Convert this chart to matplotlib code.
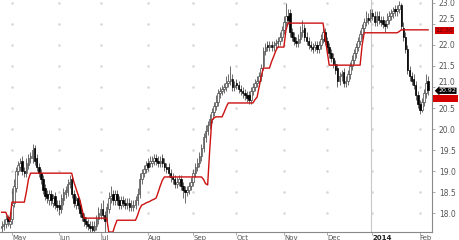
import matplotlib
matplotlib.use("Agg")
import matplotlib.pyplot as plt
import matplotlib.transforms as mtransforms
from matplotlib.patches import Rectangle
import numpy as np
import pandas as pd

start_date = "2013-04-24"
n_bars = 208

close = [17.70,17.75,17.85,17.80,17.80,18.20,18.65,19.00,19.15,19.20,
 19.00,18.95,19.20,19.30,19.35,19.50,19.25,19.10,18.95,18.80,
 18.55,18.40,18.35,18.45,18.30,18.35,18.20,18.15,18.10,18.35,
 18.50,18.55,18.70,18.75,18.45,18.25,18.30,18.20,18.00,17.90,
 17.80,17.75,17.70,17.65,17.60,17.70,17.85,18.00,18.10,17.95,
 17.80,18.15,18.35,18.40,18.30,18.45,18.30,18.20,18.30,18.25,
 18.20,18.25,18.15,18.20,18.20,18.30,18.45,18.80,18.95,19.05,
 19.15,19.10,19.25,19.25,19.30,19.25,19.20,19.25,19.20,19.10,
 19.05,18.95,18.85,18.80,18.70,18.75,18.80,18.65,18.55,18.50,
 18.55,18.65,18.75,18.95,19.10,19.20,19.35,19.55,19.80,19.95,
 20.10,20.25,20.40,20.55,20.65,20.85,20.90,20.95,21.00,21.10,
 21.15,21.20,21.00,21.05,21.05,20.95,20.90,20.85,20.80,20.75,
 20.70,20.90,21.00,21.10,21.15,21.25,21.45,21.85,21.95,21.95,
 22.00,21.95,22.00,22.05,22.10,22.20,22.35,22.55,22.70,22.60,
 22.30,22.20,22.10,22.05,22.15,22.30,22.35,22.20,22.10,22.00,
 21.95,21.90,22.00,21.90,22.00,22.15,22.30,22.10,21.95,21.80,
 21.70,21.55,21.40,21.15,21.25,21.30,21.10,21.15,21.30,21.50,
 21.65,21.80,21.95,22.10,22.25,22.40,22.55,22.65,22.60,22.75,
 22.70,22.55,22.70,22.60,22.55,22.50,22.45,22.60,22.70,22.75,
 22.80,22.80,22.85,22.95,22.45,22.20,21.90,21.40,21.25,21.15,
 21.05,20.80,20.60,20.45,20.65,20.85,21.10,20.92]

open_ = [17.65,17.70,17.75,17.90,17.75,17.85,18.25,18.60,19.00,19.10,
 19.25,19.00,18.95,19.15,19.30,19.30,19.55,19.30,19.10,18.95,
 18.80,18.60,18.45,18.30,18.45,18.25,18.40,18.20,18.20,18.10,
 18.30,18.45,18.50,18.70,18.80,18.45,18.20,18.35,18.20,18.00,
 17.90,17.80,17.75,17.70,17.70,17.60,17.70,17.85,17.95,18.10,
 17.95,17.80,18.10,18.35,18.45,18.30,18.45,18.30,18.20,18.30,
 18.25,18.20,18.25,18.15,18.15,18.20,18.30,18.45,18.80,18.95,
 19.05,19.20,19.20,19.20,19.25,19.30,19.25,19.20,19.30,19.20,
 19.10,19.10,18.95,18.85,18.80,18.70,18.75,18.80,18.65,18.55,
 18.50,18.55,18.65,18.75,18.95,19.10,19.20,19.35,19.55,19.80,
 19.95,20.10,20.25,20.40,20.55,20.65,20.85,20.90,20.95,21.00,
 21.10,21.15,21.20,21.00,21.10,21.05,20.95,20.90,20.85,20.80,
 20.80,20.70,20.90,21.00,21.10,21.15,21.25,21.50,21.85,22.00,
 21.95,22.00,21.95,22.00,22.05,22.10,22.20,22.35,22.55,22.70,
 22.75,22.30,22.20,22.10,22.05,22.15,22.30,22.40,22.20,22.10,
 22.00,21.95,21.95,22.00,21.90,22.00,22.15,22.30,22.10,21.95,
 21.80,21.70,21.55,21.45,21.15,21.25,21.35,21.10,21.15,21.30,
 21.50,21.65,21.80,21.95,22.10,22.25,22.40,22.55,22.65,22.65,
 22.75,22.70,22.55,22.70,22.60,22.60,22.50,22.50,22.60,22.70,
 22.75,22.85,22.80,22.85,22.95,22.40,22.20,21.90,21.40,21.25,
 21.20,21.05,20.80,20.60,20.45,20.65,20.85,21.15]

high = [17.80,17.85,17.95,17.95,17.90,18.60,18.80,19.10,19.25,19.30,
 19.35,19.10,19.30,19.40,19.45,19.65,19.62,19.40,19.20,19.05,
 18.90,18.70,18.55,18.55,18.55,18.45,18.50,18.30,18.30,18.45,
 18.60,18.65,18.80,18.90,18.90,18.55,18.40,18.45,18.30,18.10,
 18.00,17.90,17.85,17.80,17.80,17.80,17.95,18.15,18.25,18.30,
 18.05,18.25,18.50,18.65,18.55,18.55,18.55,18.40,18.40,18.40,
 18.35,18.35,18.35,18.30,18.30,18.40,18.60,18.95,19.05,19.15,
 19.25,19.30,19.35,19.35,19.40,19.40,19.35,19.35,19.40,19.30,
 19.20,19.20,19.05,18.95,18.90,18.85,18.90,18.90,18.75,18.65,
 18.65,18.75,18.85,19.05,19.20,19.30,19.45,19.65,19.90,20.10,
 20.20,20.35,20.50,20.65,20.80,20.95,21.00,21.05,21.10,21.25,
 21.30,21.50,21.30,21.15,21.20,21.15,21.05,21.00,20.95,20.90,
 20.90,21.00,21.10,21.20,21.25,21.35,21.55,21.95,22.05,22.10,
 22.10,22.10,22.10,22.15,22.20,22.30,22.45,22.70,23.00,22.85,
 22.85,22.40,22.30,22.20,22.25,22.45,22.60,22.50,22.30,22.20,
 22.10,22.05,22.10,22.10,22.10,22.25,22.40,22.40,22.20,22.05,
 21.90,21.80,21.65,21.55,21.35,21.40,21.45,21.25,21.40,21.60,
 21.75,21.90,22.05,22.20,22.35,22.50,22.65,22.80,22.75,22.85,
 22.85,22.80,22.80,22.80,22.70,22.70,22.60,22.75,22.80,22.85,
 22.90,22.95,22.95,23.05,23.00,22.55,22.30,22.00,21.50,21.35,
 21.30,21.15,20.90,20.70,20.75,20.95,21.30,21.25]

low = [17.55,17.60,17.65,17.70,17.65,17.75,18.15,18.50,18.90,19.00,
 18.90,18.85,18.85,19.05,19.20,19.20,19.15,19.00,18.85,18.70,
 18.45,18.30,18.25,18.20,18.20,18.15,18.10,18.05,17.95,18.00,
 18.20,18.35,18.40,18.60,18.35,18.15,18.10,18.10,17.90,17.80,
 17.70,17.65,17.60,17.55,17.50,17.50,17.60,17.75,17.85,17.85,
 17.55,17.70,18.00,18.25,18.20,18.20,18.20,18.10,18.10,18.15,
 18.10,18.10,18.05,18.05,18.05,18.10,18.20,18.35,18.70,18.85,
 18.95,19.00,19.10,19.10,19.15,19.15,19.10,19.10,19.10,19.00,
 18.95,18.85,18.75,18.70,18.60,18.60,18.65,18.55,18.35,18.25,
 18.40,18.45,18.55,18.65,18.85,19.00,19.10,19.25,19.45,19.70,
 19.85,20.00,20.15,20.30,20.45,20.55,20.75,20.80,20.85,20.90,
 21.00,21.05,20.90,20.90,20.95,20.85,20.80,20.75,20.70,20.65,
 20.60,20.60,20.80,20.90,21.00,21.05,21.15,21.40,21.75,21.85,
 21.85,21.85,21.85,21.90,21.95,22.00,22.10,22.25,22.45,22.50,
 22.20,22.10,22.00,21.95,21.95,22.05,22.20,22.10,22.00,21.90,
 21.85,21.80,21.85,21.80,21.80,21.90,22.05,22.00,21.85,21.70,
 21.60,21.45,21.30,21.00,21.05,21.15,21.00,21.00,21.05,21.20,
 21.40,21.55,21.70,21.85,22.00,22.15,22.30,22.45,22.50,22.55,
 22.60,22.45,22.45,22.50,22.45,22.40,22.30,22.40,22.50,22.60,
 22.65,22.70,22.70,22.75,22.35,22.10,21.80,21.30,21.15,21.05,
 20.95,20.70,20.50,20.35,20.40,20.55,20.75,20.80]

stop = [18.02,18.02,18.02,17.90,17.83,18.26,18.26,18.26,18.26,18.26,
 18.26,18.26,18.50,18.80,18.95,18.95,18.95,18.95,18.95,18.95,
 18.95,18.95,18.95,18.95,18.95,18.95,18.95,18.95,18.95,18.95,
 18.95,18.95,18.95,18.95,18.95,18.75,18.60,18.45,18.31,18.10,
 17.88,17.88,17.88,17.88,17.88,17.88,17.88,17.88,17.88,17.88,
 17.88,17.88,17.55,17.55,17.55,17.70,17.83,17.83,17.83,17.83,
 17.83,17.83,17.83,17.83,17.83,17.83,17.95,18.10,18.19,18.21,
 18.24,18.26,18.28,18.31,18.33,18.36,18.50,18.65,18.78,18.86,
 18.86,18.86,18.86,18.86,18.86,18.86,18.86,18.86,18.86,18.86,
 18.86,18.86,18.86,18.86,18.86,18.86,18.86,18.86,18.80,18.70,
 18.67,19.50,20.21,20.26,20.29,20.29,20.29,20.29,20.40,20.52,
 20.62,20.62,20.62,20.62,20.62,20.62,20.62,20.62,20.62,20.62,
 20.62,20.62,20.62,20.70,20.76,21.00,21.25,21.45,21.45,21.45,
 21.45,21.60,21.72,21.85,21.95,21.95,21.95,21.95,22.35,22.52,
 22.52,22.52,22.52,22.52,22.52,22.52,22.52,22.52,22.52,22.52,
 22.52,22.52,22.52,22.52,22.52,22.52,22.52,22.20,21.85,21.52,
 21.52,21.52,21.52,21.52,21.52,21.52,21.52,21.52,21.52,21.52,
 21.52,21.52,21.52,21.52,21.52,22.00,22.29,22.29,22.29,22.29,
 22.29,22.29,22.29,22.29,22.29,22.29,22.29,22.29,22.29,22.29,
 22.29,22.29,22.29,22.32,22.36,22.36,22.36,22.36,22.36,22.36,
 22.36,22.36,22.36,22.36,22.36,22.36,22.36,22.36]

y_ticks = [18.0, 18.5, 19.0, 19.5, 20.0, 20.5, 21.0, 21.5, 22.0, 22.5, 23.0]
month_labels = ["May", "Jun", "Jul", "Aug", "Sep", "Oct", "Nov", "Dec", "2014", "Feb"]
last_label = "20.92"
stop_label = "22.36"
extra_level = 20.74

dates = pd.bdate_range(start_date, periods=n_bars)
x = np.arange(n_bars)
o = np.array(open_); c = np.array(close); h = np.array(high); l = np.array(low)

months = dates.to_period("M")
month_idx = [i for i in range(1, n_bars) if months[i] != months[i - 1]]

fig = plt.figure(figsize=(4.59, 2.40), dpi=100)
ax = fig.add_axes([0, 8 / 240, 432 / 459, 232 / 240])
ax.set_xlim(-0.8, 208.9)
ax.set_ylim(17.55, 23.07)

# faint grid dots
gx, gy = np.meshgrid(month_idx, y_ticks)
ax.plot(gx.ravel(), gy.ravel(), linestyle="none", marker="s", markersize=0.8,
        color="#d8d8d8", zorder=0)

# year separator
jan_idx = month_idx[month_labels.index("2014")]
ax.axvline(jan_idx - 0.5, color="#c8c8c8", linewidth=0.8, zorder=0.5)

# candles
ax.vlines(x, l, h, color="#555555", linewidth=0.6, zorder=1)
up = c >= o
bottoms = np.minimum(o, c)
heights = np.maximum(np.abs(c - o), 0.02)
ax.bar(x[up], heights[up], bottom=bottoms[up], width=0.75, color="white",
       edgecolor="#444444", linewidth=0.5, zorder=2)
ax.bar(x[~up], heights[~up], bottom=bottoms[~up], width=0.75, color="black",
       edgecolor="black", linewidth=0.5, zorder=2)

# trailing stop line
ax.plot(x, stop, color="#cc1111", linewidth=1.0, zorder=3)

# axes styling
for s in ["top", "left"]:
    ax.spines[s].set_visible(False)
ax.spines["right"].set_color("#888888")
ax.spines["bottom"].set_color("#888888")
ax.spines["right"].set_linewidth(0.8)
ax.spines["bottom"].set_linewidth(0.8)
ax.yaxis.tick_right()
ax.set_yticks(y_ticks)
ax.set_yticklabels([f"{v:.1f}" for v in y_ticks])
ax.tick_params(axis="y", labelsize=5.5, length=2, width=0.5, colors="#888888",
               labelcolor="#555555", pad=3)
# labels next to the price boxes sit just above their tick
for lab in ax.get_yticklabels():
    if lab.get_text() in ("21.0", "22.5"):
        lab.set_va("bottom")
ax.set_xticks(month_idx)
ax.set_xticklabels(month_labels, ha="left")
ax.tick_params(axis="x", labelsize=5, length=2, width=0.5, colors="#888888",
               labelcolor="#555555", pad=0.5)
for lab in ax.get_xticklabels():
    if lab.get_text() == "2014":
        lab.set_fontweight("bold")
        lab.set_color("#222222")

trans = mtransforms.blended_transform_factory(ax.transAxes, ax.transData)
ax.add_patch(Rectangle((1.003, extra_level - 0.09), 0.057, 0.17, transform=trans,
                       facecolor="#d40000", edgecolor="none", clip_on=False, zorder=4))
ax.text(1.008, 22.34, stop_label, transform=trans, fontsize=4.5, color="#6a0000",
        va="center", ha="left",
        bbox=dict(boxstyle="square,pad=0.12", fc="#d40000", ec="none"), clip_on=False)
ax.text(1.014, 20.91, last_label, transform=trans, fontsize=4.5, color="white",
        va="center", ha="left",
        bbox=dict(boxstyle="larrow,pad=0.1", fc="black", ec="none"), clip_on=False)

fig.savefig("out.png", dpi=100)
